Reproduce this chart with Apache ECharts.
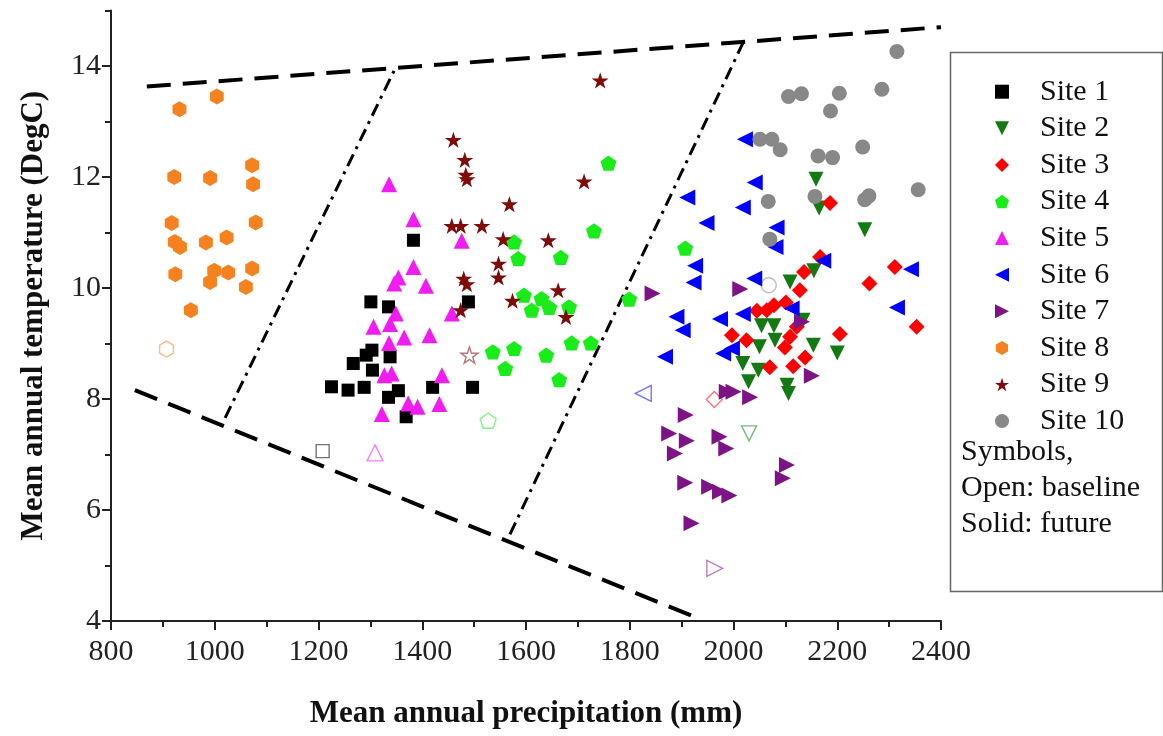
<!DOCTYPE html>
<html>
<head>
<meta charset="utf-8">
<title>Mean annual temperature vs precipitation</title>
<script src="https://cdn.jsdelivr.net/npm/echarts@6/dist/echarts.min.js"></script>
<style>
  html, body { margin: 0; padding: 0; background: #fff; }
  #chart { width: 1163px; height: 736px; }
</style>
</head>
<body>
<div id="chart"></div>
<script>
  // future points per site: [precipitation (mm), temperature (DegC)]
  var site1 = [[1383, 10.86], [1301, 9.75], [1335, 9.66], [1489, 9.75], [1303, 8.88], [1292, 8.79], [1338, 8.76], [1267, 8.64], [1304, 8.52], [1225, 8.22], [1257, 8.16], [1288, 8.21], [1335, 8.03], [1354, 8.15], [1420, 8.21], [1497, 8.21], [1369, 7.68]];
  var site2 = [[2159, 11.96], [2165, 11.44], [2253, 11.05], [2155, 10.31], [2109, 10.11], [2054, 9.32], [2078, 9.32], [2080, 9.06], [2050, 8.94], [2154, 8.97], [2200, 8.83], [2018, 8.64], [2048, 8.52], [2029, 8.31], [2103, 8.25], [2106, 8.10], [2134, 9.42]];
  var site3 = [[2186, 11.53], [2167, 10.56], [2136, 10.29], [2128, 9.96], [2311, 10.38], [2262, 10.08], [2353, 9.30], [2205, 9.17], [2045, 9.59], [2064, 9.60], [2078, 9.69], [2101, 9.74], [2122, 9.30], [1997, 9.15], [2025, 9.06], [2099, 8.93], [2138, 8.75], [2115, 8.59], [2070, 8.57], [2109, 9.12]];
  var site4 = [[1759, 12.25], [1731, 11.03], [1577, 10.83], [1585, 10.53], [1667, 10.55], [1596, 9.87], [1630, 9.81], [1611, 9.60], [1645, 9.65], [1683, 9.66], [1799, 9.80], [1688, 9.01], [1725, 9.01], [1536, 8.85], [1577, 8.91], [1639, 8.79], [1560, 8.55], [1664, 8.35], [1907, 10.72]];
  var site5 = [[1336, 11.87], [1383, 11.24], [1476, 10.85], [1383, 10.38], [1354, 10.19], [1346, 10.08], [1407, 10.04], [1349, 9.54], [1457, 9.54], [1306, 9.30], [1338, 9.35], [1365, 9.11], [1414, 9.15], [1336, 9.01], [1327, 8.43], [1341, 8.46], [1438, 8.43], [1322, 7.73], [1373, 7.92], [1391, 7.86], [1433, 7.91]];
  var site6 = [[2022, 12.68], [2041, 11.90], [1911, 11.63], [2018, 11.45], [1948, 11.17], [2083, 11.09], [2081, 10.74], [1926, 10.40], [1923, 10.10], [2040, 10.17], [1890, 9.48], [1902, 9.24], [1974, 9.44], [2018, 9.53], [2112, 9.63], [1868, 8.76], [1980, 8.82], [1997, 8.91], [2173, 10.49], [2342, 10.34], [2315, 9.65]];
  var site7 = [[1844, 9.90], [2013, 9.98], [2132, 9.39], [2151, 8.42], [1987, 8.13], [2000, 8.13], [2032, 8.03], [1908, 7.71], [1876, 7.38], [1910, 7.25], [1887, 7.02], [1973, 7.32], [1986, 7.11], [2103, 6.81], [2095, 6.57], [1907, 6.49], [1953, 6.42], [1974, 6.33], [1992, 6.26], [1919, 5.76]];
  var site8 = [[932, 13.22], [1004, 13.45], [922, 12.00], [991, 11.98], [1072, 12.21], [1074, 11.87], [917, 11.17], [1079, 11.18], [923, 10.83], [933, 10.74], [983, 10.82], [1023, 10.91], [924, 10.25], [999, 10.31], [1026, 10.28], [991, 10.11], [1072, 10.35], [1060, 10.02], [954, 9.60]];
  var site9 = [[1743, 13.74], [1460, 12.67], [1482, 12.31], [1484, 12.04], [1486, 11.96], [1712, 11.92], [1568, 11.51], [1457, 11.12], [1474, 11.12], [1515, 11.12], [1556, 10.88], [1643, 10.86], [1547, 10.44], [1547, 10.19], [1480, 10.17], [1486, 10.07], [1662, 9.96], [1574, 9.77], [1474, 9.60], [1677, 9.48]];
  var site10 = [[2315, 14.26], [2106, 13.45], [2131, 13.50], [2204, 13.51], [2286, 13.58], [2187, 13.19], [2051, 12.68], [2074, 12.68], [2090, 12.49], [2163, 12.38], [2191, 12.35], [2249, 12.54], [2356, 11.77], [2157, 11.65], [2253, 11.59], [2261, 11.66], [2067, 11.56], [2070, 10.88]];

  // baseline (open symbol), one per site, Site 1 .. Site 10
  var baseline = [[1208, 7.06], [2030, 7.38], [1963, 7.99], [1527, 7.61], [1309, 7.03], [1826, 8.10], [1964, 4.95], [907, 8.90], [1491, 8.79], [2068, 10.05]];

  var siteNames = ['Site 1', 'Site 2', 'Site 3', 'Site 4', 'Site 5', 'Site 6', 'Site 7', 'Site 8', 'Site 9', 'Site 10'];
  var yLabelValues = [4, 6, 8, 10, 12, 14];
  var yMinorValues = [5, 7, 9, 11, 13, 15];

  // boundary lines
  var upperDash = [[869, 13.63], [2400, 14.70]];
  var lowerDash = [[846, 8.16], [1926, 4.07]];
  var leftDashDot = [[1020, 7.66], [1348, 13.96]];
  var rightDashDot = [[1569, 5.56], [2021, 14.47]];

  var TRI_UP = 'path://M0,-1L1,1L-1,1Z';
  var TRI_DOWN = 'path://M-1,-1L1,-1L0,1Z';
  var TRI_LEFT = 'path://M-1,0L1,-1L1,1Z';
  var TRI_RIGHT = 'path://M1,0L-1,-1L-1,1Z';
  var PENTAGON = 'path://M0,-1L0.951,-0.309L0.588,0.809L-0.588,0.809L-0.951,-0.309Z';
  var HEXAGON = 'path://M0,-1L0.866,-0.5L0.866,0.5L0,1L-0.866,0.5L-0.866,-0.5Z';
  var STAR = 'path://M0,-1L0.2245,-0.309L0.951,-0.309L0.3633,0.118L0.588,0.809L0,0.382L-0.588,0.809L-0.3633,0.118L-0.951,-0.309L-0.2245,-0.309Z';

  var siteColors = ['#000000', '#137a13', '#ff0000', '#1aec1a', '#f01cf0', '#0000ff', '#7d1486', '#f5821f', '#7f0a0a', '#888888'];
  var siteSymbols = ['rect', TRI_DOWN, 'diamond', PENTAGON, TRI_UP, TRI_LEFT, TRI_RIGHT, HEXAGON, STAR, 'circle'];
  var siteSizes = [13, 15, 16, 16, 16, 16, 16, 16, 17, 15];

  var FONT = 'Liberation Serif';
  var sites = [site1, site2, site3, site4, site5, site6, site7, site8, site9, site10];

  function boundary(name, pts, pattern, width) {
    return {
      name: name,
      type: 'line',
      data: pts,
      symbol: 'none',
      silent: true,
      z: 1,
      lineStyle: { color: '#000', width: width, type: pattern }
    };
  }

  var series = [
    boundary('upper', upperDash, [24, 12], 4),
    boundary('lower', lowerDash, [24, 12], 4),
    boundary('left', leftDashDot, [13, 6, 3, 6], 3),
    boundary('right', rightDashDot, [13, 6, 3, 6], 3)
  ];

  sites.forEach(function (pts, i) {
    series.push({
      name: siteNames[i] + ' baseline',
      type: 'scatter',
      data: [baseline[i]],
      symbol: siteSymbols[i],
      symbolSize: siteSizes[i],
      symbolKeepAspect: true,
      z: 2,
      itemStyle: { color: 'rgba(255,255,255,0)', borderColor: siteColors[i], borderWidth: 1.4, opacity: 0.55 }
    });
  });
  sites.forEach(function (pts, i) {
    series.push({
      name: siteNames[i],
      type: 'scatter',
      data: pts,
      symbol: siteSymbols[i],
      symbolSize: siteSizes[i],
      symbolKeepAspect: true,
      z: 3,
      itemStyle: { color: siteColors[i], opacity: 1 }
    });
  });

  var chart = echarts.init(document.getElementById('chart'));
  var option = {
    animation: false,
    backgroundColor: '#fff',
    grid: { left: 111, top: 10.5, width: 830, height: 610.5 },
    xAxis: {
      type: 'value',
      min: 800,
      max: 2400,
      interval: 200,
      name: 'Mean annual precipitation (mm)',
      nameLocation: 'middle',
      nameGap: 77,
      nameTextStyle: { fontFamily: FONT, fontWeight: 'bold', fontSize: 31, color: '#111' },
      axisLine: { lineStyle: { color: '#222', width: 2 } },
      axisTick: { inside: false, length: 9, lineStyle: { color: '#222', width: 2 } },
      minorTick: { show: true, splitNumber: 2, length: 6, lineStyle: { color: '#222', width: 2 } },
      axisLabel: {
        fontFamily: FONT, fontSize: 30, color: '#222', margin: 16,
        formatter: function (v) { return String(v); }
      },
      splitLine: { show: false }
    },
    yAxis: [
      {
        type: 'value',
        min: 4,
        max: 15,
        name: 'Mean annual temperature (DegC)',
        nameLocation: 'middle',
        nameGap: 62,
        nameRotate: 90,
        nameTextStyle: { fontFamily: FONT, fontWeight: 'bold', fontSize: 31, color: '#111' },
        axisLine: { show: true, lineStyle: { color: '#222', width: 2 } },
        axisTick: { show: true, length: 9, customValues: yLabelValues, lineStyle: { color: '#222', width: 2 } },
        axisLabel: { fontFamily: FONT, fontSize: 30, color: '#222', margin: 10, customValues: yLabelValues },
        splitLine: { show: false }
      },
      {
        type: 'value',
        min: 4,
        max: 15,
        position: 'left',
        axisLine: { show: false },
        axisTick: { show: true, length: 6, customValues: yMinorValues, lineStyle: { color: '#222', width: 2 } },
        axisLabel: { show: false },
        splitLine: { show: false }
      }
    ],
    legend: {
      data: siteNames,
      orient: 'vertical',
      left: 990,
      top: 71.7,
      itemWidth: 14,
      itemHeight: 14,
      itemGap: 6.6,
      selectedMode: false,
      textStyle: { fontFamily: FONT, fontSize: 30, lineHeight: 30, color: '#111', padding: [0, 0, 0, 26] }
    },
    graphic: [
      { type: 'rect', left: 948, top: 50, shape: { width: 212, height: 539 }, style: { fill: 'none', stroke: '#666', lineWidth: 1.5 }, z: 0 },
      { type: 'text', left: 961, top: 437, style: { text: 'Symbols,', font: '30px "Liberation Serif"', fill: '#111' } },
      { type: 'text', left: 961, top: 473, style: { text: 'Open: baseline', font: '30px "Liberation Serif"', fill: '#111' } },
      { type: 'text', left: 961, top: 509, style: { text: 'Solid: future', font: '30px "Liberation Serif"', fill: '#111' } }
    ],
    series: series
  };
  chart.setOption(option);
  window.addEventListener('resize', function () {
    chart.resize();
  });
</script>
</body>
</html>
